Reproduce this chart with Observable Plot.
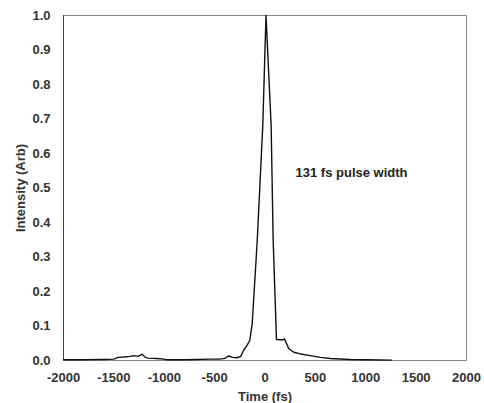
<!DOCTYPE html>
<html>
<head>
<meta charset="utf-8">
<script src="https://cdn.jsdelivr.net/npm/d3@7"></script>
<script src="https://cdn.jsdelivr.net/npm/@observablehq/plot@0.6"></script>
<style>
  html, body { margin: 0; padding: 0; background: #fff; }
  #chart svg { display: block; }
</style>
</head>
<body>
<div id="chart"></div>
<script>
// Time (fs)
const times = [
  -2000, -1800, -1600, -1500, -1460, -1400, -1340, -1300, -1260, -1220,
  -1190, -1160, -1080, -1000, -980, -800, -670, -550, -450, -400,
  -362, -320, -276, -240, -213, -180, -151, -127, -77, -22,
  10, 61, 81, 114, 150, 181, 193, 236, 286, 352,
  451, 550, 650, 848, 1000, 1255
];
// Intensity (Arb)
const intensity = [
  0.002, 0.002, 0.003, 0.004, 0.009, 0.010, 0.012, 0.014, 0.012, 0.018,
  0.010, 0.007, 0.006, 0.004, 0.002, 0.002, 0.003, 0.004, 0.004, 0.006,
  0.013, 0.009, 0.008, 0.012, 0.029, 0.043, 0.058, 0.107, 0.348, 0.681,
  1.000, 0.681, 0.348, 0.061, 0.060, 0.060, 0.063, 0.034, 0.024, 0.019,
  0.014, 0.009, 0.006, 0.003, 0.002, 0.001
];
const xTicks = [-2000, -1500, -1000, -500, 0, 500, 1000, 1500, 2000];
const yTicks = [0, 0.1, 0.2, 0.3, 0.4, 0.5, 0.6, 0.7, 0.8, 0.9, 1.0];
const annotation = [{t: 303, v: 0.545, label: "131 fs pulse width"}];

const data = times.map((t, i) => ({t, v: intensity[i]}));

const chart = Plot.plot({
  width: 484,
  height: 403,
  marginLeft: 63,
  marginRight: 18,
  marginTop: 15,
  marginBottom: 43,
  style: {fontFamily: "'Liberation Sans', Arial, sans-serif", fontSize: "13px", fontWeight: "bold", color: "#333", background: "#fff"},
  x: {domain: [-2000, 2000]},
  y: {domain: [0, 1]},
  marks: [
    Plot.frame({stroke: "#888"}),
    Plot.ruleX([-2000], {stroke: "#444"}),
    Plot.axisX({ticks: xTicks, tickSize: 0, tickPadding: 12, tickFormat: d => String(d), label: "Time (fs)", labelAnchor: "center", labelArrow: "none", labelOffset: 40, fill: "#333", fontSize: 13}),
    Plot.axisY({ticks: yTicks, tickSize: 0, tickPadding: 13, tickFormat: d => d.toFixed(1), label: "Intensity (Arb)", labelAnchor: "center", labelArrow: "none", labelOffset: 48, fill: "#333", fontSize: 13}),
    Plot.line(data, {x: "t", y: "v", stroke: "#111", strokeWidth: 1.4}),
    Plot.text(annotation, {x: "t", y: "v", text: "label", textAnchor: "start", fill: "#222", fontSize: 13, fontWeight: "bold"})
  ]
});
document.getElementById("chart").append(chart);
</script>
</body>
</html>
